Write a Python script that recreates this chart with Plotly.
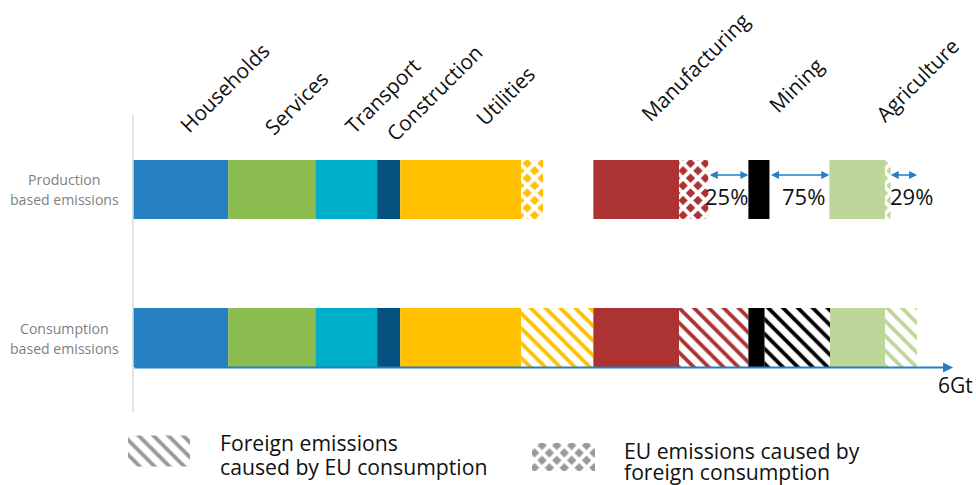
"""EU emissions by sector: production vs consumption based accounting."""
import numpy as np
import plotly.graph_objects as go

W, H = 976, 485
PX_PER_GT = 136.0
X0_PX = 133.0
ROW_PX = 148.0
Y0_PX = 337.5
FONT = "Open Sans, Noto Sans, sans-serif"

BLUE = "#2480c0"
GREEN = "#8cbc50"
TEAL = "#00aec8"
NAVY = "#04507e"
YELLOW = "#ffc000"
RED = "#ad3232"
BLACK = "#000000"
PALE = "#bdd79a"
GREY = "#999999"

# segment widths in Gt, gaps have no colour
PROD_WIDTHS = [0.70, 0.64, 0.455, 0.17, 0.89, 0.16, 0.37, 0.63, 0.215, 0.295, 0.155, 0.44, 0.41, 0.04]
PROD_COLORS = [BLUE, GREEN, TEAL, NAVY, YELLOW, YELLOW, None, RED, RED, None, BLACK, None, PALE, PALE]
PROD_STYLE = ["", "", "", "", "", "x", "", "", "x", "", "", "", "", "x"]

CONS_WIDTHS = [0.70, 0.64, 0.455, 0.17, 0.89, 0.53, 0.63, 0.51, 0.12, 0.48, 0.405, 0.235]
CONS_COLORS = [BLUE, GREEN, TEAL, NAVY, YELLOW, YELLOW, RED, RED, BLACK, BLACK, PALE, PALE]
CONS_STYLE = ["", "", "", "", "", "\\", "", "\\", "", "\\", "", "\\"]

SECTORS = ["Households", "Services", "Transport", "Construction", "Utilities",
           "Manufacturing", "Mining", "Agriculture"]
SECTOR_X = [224, 296, 382, 434, 505, 695, 796, 917]
SECTOR_Y = [88, 103, 96, 93, 96, 67, 85, 80]

SHARES = ["25%", "75%", "29%"]
SHARE_X = [726, 803, 911]


def pattern_for(style, color):
    # plotly's tile is size*sqrt(2) wide for the diagonal shapes
    if style == "x":
        return dict(shape="x", size=10.5, solidity=0.6, fillmode="replace",
                    fgcolor="white", bgcolor=color)
    if style == "\\":
        return dict(shape="\\", size=10.5, solidity=0.36, fillmode="replace",
                    fgcolor=color, bgcolor="white")
    return dict(shape="")


def add_row(fig, y, widths, colors, styles, thickness=0.4):
    starts = np.concatenate([[0], np.cumsum(widths)[:-1]])
    for base, width, color, style in zip(starts, widths, colors, styles):
        if color is None:
            continue
        fig.add_trace(go.Bar(
            y=[y], x=[width], base=[base], orientation="h", width=thickness,
            marker=dict(color=color, line=dict(width=0), pattern=pattern_for(style, color)),
            showlegend=False, hoverinfo="skip",
        ))
    return starts


def px(x):
    return x / W


def py(y):
    return 1 - y / H


def label(text, x, y, size, color="#111111", angle=0, xanchor="center"):
    return dict(text=text, x=px(x), y=py(y), xref="paper", yref="paper", showarrow=False,
                font=dict(size=size, color=color, family=FONT), textangle=angle,
                xanchor=xanchor, yanchor="middle")


def to_y(y_px):
    return (Y0_PX - y_px) / ROW_PX


def arrow(x0, x1, y, width=1.6, both=True):
    return dict(x=x1, y=y, ax=x0, ay=y, xref="x", yref="y", axref="x", ayref="y", text="",
                showarrow=True, arrowhead=2, arrowsize=1, arrowwidth=width, arrowcolor=BLUE,
                startarrowhead=2, startarrowsize=1, arrowside="end+start" if both else "end",
                standoff=0, startstandoff=0)


fig = go.Figure()
prod_starts = add_row(fig, 1, PROD_WIDTHS, PROD_COLORS, PROD_STYLE)
add_row(fig, 0, CONS_WIDTHS, CONS_COLORS, CONS_STYLE)

# legend swatches
fig.add_trace(go.Bar(
    y=[to_y(451)], x=[62 / PX_PER_GT], base=[-5 / PX_PER_GT], orientation="h", width=31 / ROW_PX,
    marker=dict(color=GREY, line=dict(width=0), pattern=pattern_for("\\", GREY)),
    showlegend=False, hoverinfo="skip",
))
fig.add_trace(go.Bar(
    y=[to_y(457)], x=[63 / PX_PER_GT], base=[399 / PX_PER_GT], orientation="h", width=28 / ROW_PX,
    marker=dict(color=GREY, line=dict(width=0), pattern=pattern_for("x", GREY)),
    showlegend=False, hoverinfo="skip",
))

annotations = [label(t, x, y, 20.8, angle=-45) for t, x, y in zip(SECTORS, SECTOR_X, SECTOR_Y)]
annotations += [label(t, x, 196, 22) for t, x in zip(SHARES, SHARE_X)]
annotations += [
    label("Production", 64, 179, 14.1, color="#7f7f7f"),
    label("based emissions", 64, 199, 14.1, color="#7f7f7f"),
    label("Consumption", 64, 328, 14.1, color="#7f7f7f"),
    label("based emissions", 64, 348, 14.1, color="#7f7f7f"),
    label("6Gt", 955, 385, 21),
    label("Foreign emissions", 218, 442, 21.2, xanchor="left"),
    label("caused by EU consumption", 218, 466, 21.2, xanchor="left"),
    label("EU emissions caused by", 622, 450, 21.2, xanchor="left"),
    label("foreign consumption", 622, 471, 21.2, xanchor="left"),
]

# share arrows span the gaps between the production bars
y_arrow = to_y(175)
annotations += [
    arrow(prod_starts[9], prod_starts[10], y_arrow),
    arrow(prod_starts[11], prod_starts[12], y_arrow),
    arrow(prod_starts[13] + PROD_WIDTHS[13] - 0.01, prod_starts[13] + 0.235, y_arrow),
    arrow(0, 6.03, to_y(367.5), width=2, both=False),
]

fig.add_shape(type="line", x0=0, x1=0, y0=to_y(115), y1=to_y(412),
              line=dict(color="#d9d9d9", width=1.5))

fig.update_layout(
    width=W, height=H, margin=dict(l=0, r=0, t=0, b=0),
    paper_bgcolor="white", plot_bgcolor="white", barmode="overlay", showlegend=False,
    xaxis=dict(range=[-X0_PX / PX_PER_GT, (W - X0_PX) / PX_PER_GT], visible=False, fixedrange=True),
    yaxis=dict(range=[to_y(H), to_y(0)], visible=False, fixedrange=True),
    annotations=annotations,
    font=dict(family=FONT),
)

fig.write_html("out.html", config=dict(displayModeBar=False),
               post_script="document.body.style.margin='0';")
